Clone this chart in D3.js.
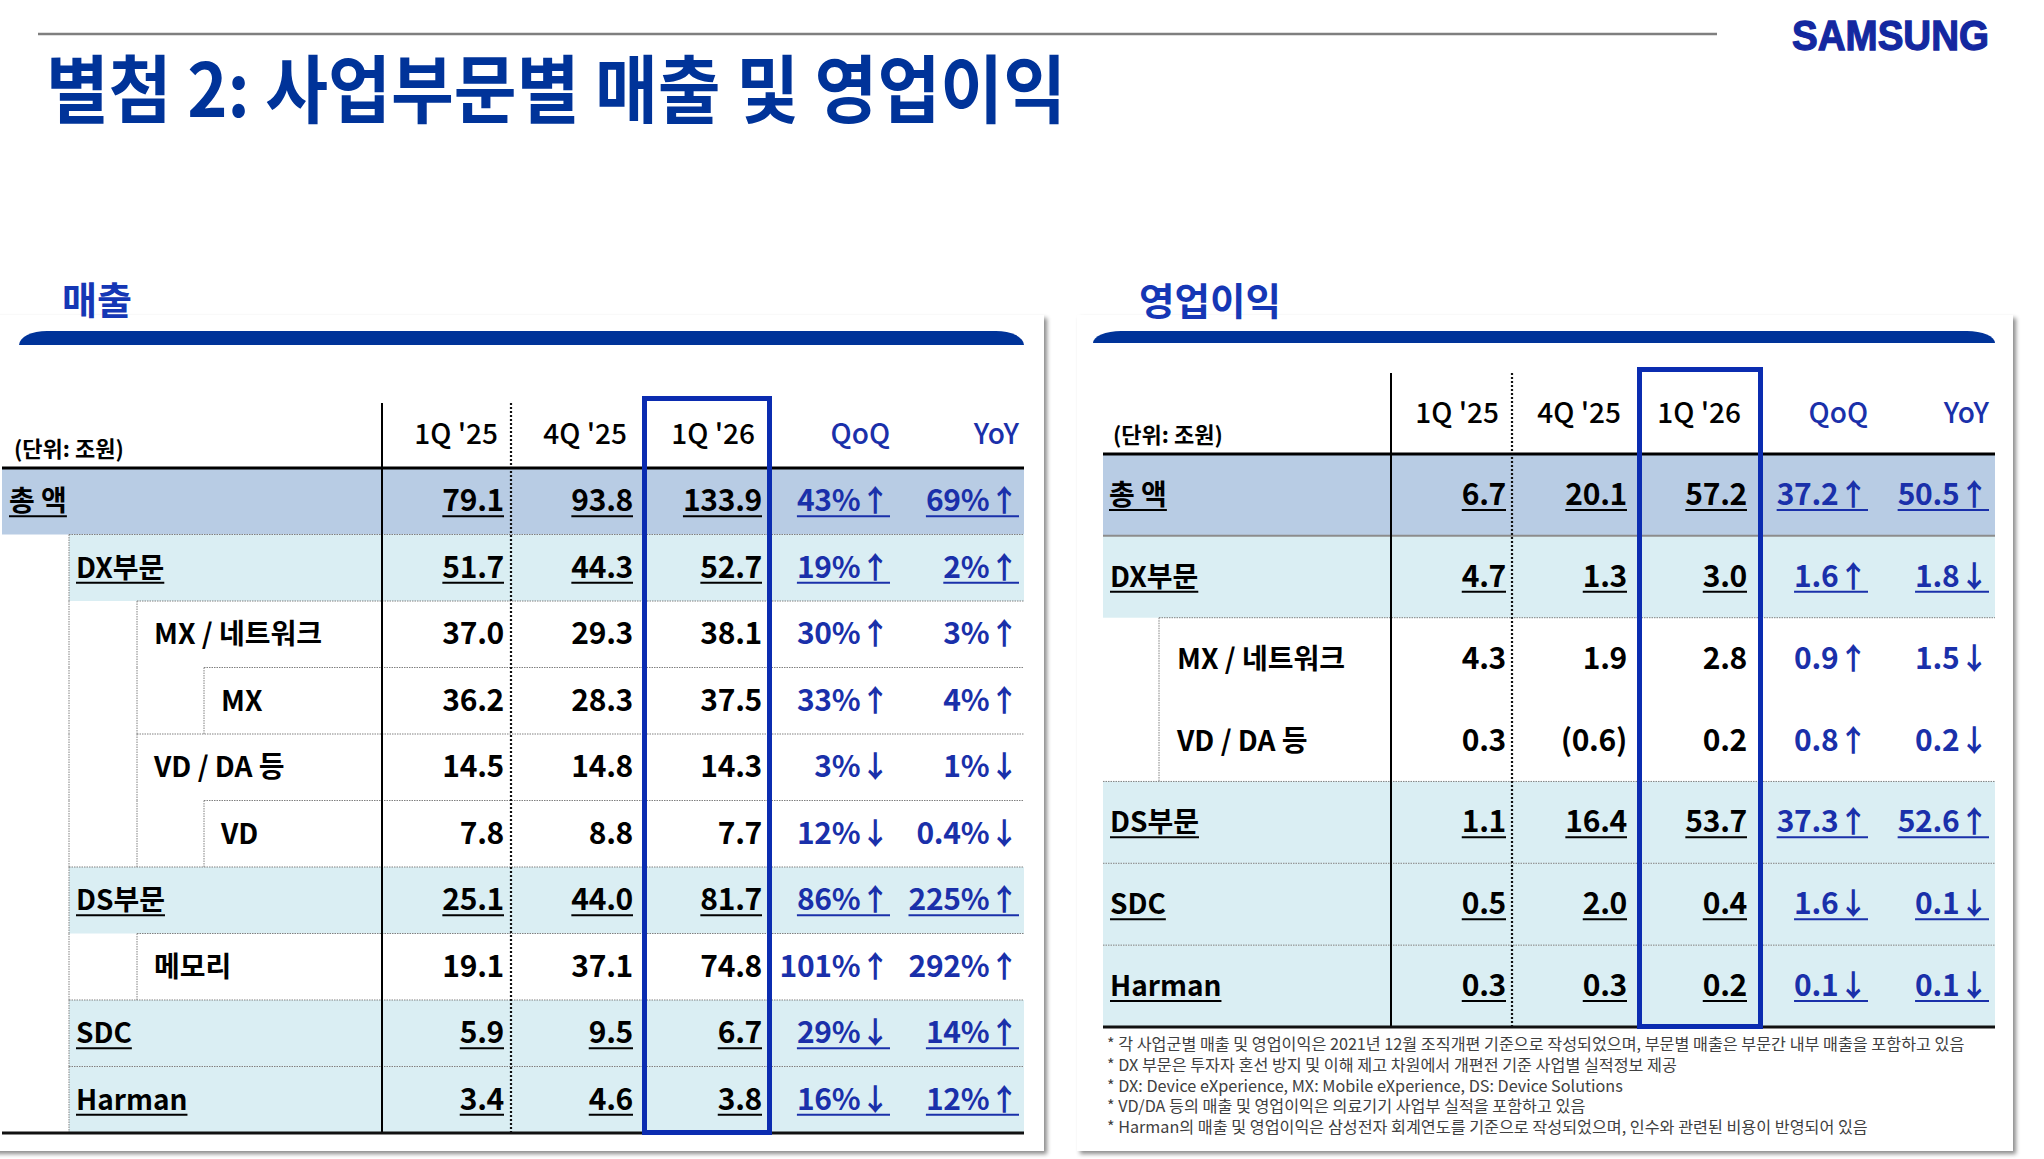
<!DOCTYPE html>
<html>
<head>
<meta charset="utf-8">
<script src="https://cdn.jsdelivr.net/npm/d3@7"></script>
<style>
  body { margin: 0; background: #fff; }
  svg { display: block; font-family: "Noto Sans CJK KR", "Noto Sans", sans-serif; }
</style>
</head>
<body>
<svg id="chart" width="2044" height="1159"></svg>
<script>
// ---- data ----
const periods = ["1Q '25", "4Q '25", "1Q '26"];
const changeCols = ["QoQ", "YoY"];

const salesRows   = ["총 액", "DX부문", "MX / 네트워크", "MX", "VD / DA 등", "VD", "DS부문", "메모리", "SDC", "Harman"];
const salesLevels = [0, 1, 2, 3, 2, 3, 1, 2, 1, 1];
const sales1Q25   = [79.1, 51.7, 37.0, 36.2, 14.5, 7.8, 25.1, 19.1, 5.9, 3.4];
const sales4Q25   = [93.8, 44.3, 29.3, 28.3, 14.8, 8.8, 44.0, 37.1, 9.5, 4.6];
const sales1Q26   = [133.9, 52.7, 38.1, 37.5, 14.3, 7.7, 81.7, 74.8, 6.7, 3.8];
const salesQoQ    = [43, 19, 30, 33, -3, -12, 86, 101, -29, -16];   // %
const salesYoY    = [69, 2, 3, 4, -1, -0.4, 225, 292, 14, 12];     // %

const opRows   = ["총 액", "DX부문", "MX / 네트워크", "VD / DA 등", "DS부문", "SDC", "Harman"];
const opLevels = [0, 1, 2, 2, 1, 1, 1];
const op1Q25   = [6.7, 4.7, 4.3, 0.3, 1.1, 0.5, 0.3];
const op4Q25   = [20.1, 1.3, 1.9, -0.6, 16.4, 2.0, 0.3];
const op1Q26   = [57.2, 3.0, 2.8, 0.2, 53.7, 0.4, 0.2];
const opQoQ    = [37.2, 1.6, 0.9, 0.8, 37.3, -1.6, -0.1];          // 조원
const opYoY    = [50.5, -1.8, -1.5, -0.2, 52.6, -0.1, -0.1];       // 조원

const footnotes = [
  "* 각 사업군별 매출 및 영업이익은 2021년 12월 조직개편 기준으로 작성되었으며, 부문별 매출은 부문간 내부 매출을 포함하고 있음",
  "* DX 부문은 투자자 혼선 방지 및 이해 제고 차원에서 개편전 기준 사업별 실적정보 제공",
  "* DX: Device eXperience, MX: Mobile eXperience, DS: Device Solutions",
  "* VD/DA 등의 매출 및 영업이익은 의료기기 사업부 실적을 포함하고 있음",
  "* Harman의 매출 및 영업이익은 삼성전자 회계연도를 기준으로 작성되었으며, 인수와 관련된 비용이 반영되어 있음"
];

// ---- styles ----
const BLUE_DARK = "#003399";
const BLUE_TXT = "#1a30aa";
const BOX_BLUE = "#0b2cb0";
const FILL0 = "#b8cce4";
const FILL1 = "#daeef3";

const f1 = d3.format(".1f");
const fmtValue = v => v < 0 ? `(${f1(-v)})` : f1(v);
const arrow = v => v < 0 ? "↓" : "↑";
const fmtPct = v => `${Math.abs(v)}%${arrow(v)}`;
const fmtDiff = v => `${f1(Math.abs(v))}${arrow(v)}`;

const svg = d3.select("#chart");

// drop shadow for panels
const defs = svg.append("defs");
const flt = defs.append("filter").attr("id", "shadow")
  .attr("x", "-5%").attr("y", "-5%").attr("width", "110%").attr("height", "110%");
flt.append("feDropShadow").attr("dx", 3).attr("dy", 3)
  .attr("stdDeviation", 2).attr("flood-color", "#000").attr("flood-opacity", 0.45);

// ---- page header ----
svg.append("line")
  .attr("x1", 38).attr("x2", 1717).attr("y1", 34).attr("y2", 34)
  .attr("stroke", "#7f7f7f").attr("stroke-width", 2.5);

svg.append("text")
  .attr("x", 46).attr("y", 117)
  .attr("font-size", 74).attr("font-weight", 700)
  .attr("fill", BLUE_DARK)
  .attr("textLength", 1020).attr("lengthAdjust", "spacingAndGlyphs")
  .text("별첨 2: 사업부문별 매출 및 영업이익");

svg.append("text")
  .attr("x", 1792).attr("y", 50)
  .attr("font-family", "'Liberation Sans', Arial, sans-serif")
  .attr("font-size", 43).attr("font-weight", 700)
  .attr("fill", "#1428a0").attr("stroke", "#1428a0").attr("stroke-width", 1.3)
  .attr("textLength", 197).attr("lengthAdjust", "spacingAndGlyphs")
  .text("SAMSUNG");

// ---- panel drawing ----
function drawPanel(cfg) {
  const L = cfg.layout;
  const g = svg.append("g");

  // white card with shadow
  g.append("rect")
    .attr("x", L.card[0]).attr("y", L.card[1])
    .attr("width", L.card[2]).attr("height", L.card[3])
    .attr("fill", "#fff").attr("filter", "url(#shadow)");

  // section title
  g.append("text")
    .attr("x", L.titleX).attr("y", L.titleY)
    .attr("font-size", 38).attr("font-weight", 700)
    .attr("fill", "#1537b5")
    .attr("textLength", L.titleLen).attr("lengthAdjust", "spacingAndGlyphs")
    .text(cfg.title);

  // ribbon bar with rounded top corners
  const bx0 = L.bar[0], bx1 = L.bar[1], by0 = L.bar[2], by1 = L.bar[3];
  const rx = 28, ry = by1 - by0;
  g.append("path")
    .attr("d", `M${bx0},${by1} A${rx},${ry} 0 0 1 ${bx0 + rx},${by0} L${bx1 - rx},${by0} A${rx},${ry} 0 0 1 ${bx1},${by1} Z`)
    .attr("fill", BLUE_DARK);

  const n = cfg.rows.length;
  const y = d3.scaleBand().domain(d3.range(n)).range([L.rowTop, L.rowBottom]);
  const cols = periods.concat(changeCols);
  const xVal = d3.scaleOrdinal().domain(cols).range(L.valueX);
  const xHead = d3.scaleOrdinal().domain(cols).range(L.headerX);
  const lv = cfg.levels;

  // row fills
  g.selectAll(".fill").data(d3.range(n).filter(i => lv[i] <= 1)).join("rect")
    .attr("x", i => L.fillX[lv[i]])
    .attr("y", i => y(i))
    .attr("width", i => L.tableRight - L.fillX[lv[i]])
    .attr("height", y.bandwidth())
    .attr("fill", i => lv[i] === 0 ? FILL0 : FILL1);

  // horizontal row separators
  d3.range(1, n).forEach(i => {
    const st = L.ruleStyle(i, lv);
    if (!st) return;
    g.append("line")
      .attr("x1", L.indentX[lv[i]]).attr("x2", L.tableRight)
      .attr("y1", y(i)).attr("y2", y(i))
      .attr("stroke", st === "solid" ? "#8c8c8c" : "#808080")
      .attr("stroke-width", st === "solid" ? 2 : 1)
      .attr("stroke-dasharray", st === "solid" ? null : "1.5,1");
  });

  // indent verticals
  d3.range(n).forEach(i => {
    for (let k = 1; k <= lv[i]; k++) {
      const xx = L.indentX[k];
      if (xx <= L.tableLeft) continue;
      g.append("line")
        .attr("x1", xx).attr("x2", xx)
        .attr("y1", y(i)).attr("y2", y(i) + y.bandwidth())
        .attr("stroke", "#808080").attr("stroke-width", 1)
        .attr("stroke-dasharray", "1.5,1");
    }
  });

  // column separators
  g.append("line")
    .attr("x1", L.colEdges[0]).attr("x2", L.colEdges[0])
    .attr("y1", L.headerTop).attr("y2", L.rowBottom)
    .attr("stroke", "#000").attr("stroke-width", 2);
  g.append("line")
    .attr("x1", L.colEdges[1]).attr("x2", L.colEdges[1])
    .attr("y1", L.headerTop).attr("y2", L.rowBottom)
    .attr("stroke", "#111").attr("stroke-width", 2.2)
    .attr("stroke-dasharray", "2,2");

  // header rule & bottom rule
  g.append("line")
    .attr("x1", L.tableLeft).attr("x2", L.tableRight)
    .attr("y1", L.rowTop).attr("y2", L.rowTop)
    .attr("stroke", "#000").attr("stroke-width", 3);
  g.append("line")
    .attr("x1", L.tableLeft).attr("x2", L.tableRight)
    .attr("y1", L.rowBottom).attr("y2", L.rowBottom)
    .attr("stroke", "#111").attr("stroke-width", 3);

  // highlight box on current quarter
  g.append("rect")
    .attr("x", L.colEdges[2] + 2.5).attr("y", L.boxTop + 2.5)
    .attr("width", L.colEdges[3] - L.colEdges[2] - 5)
    .attr("height", L.rowBottom - L.boxTop - 3)
    .attr("fill", "none").attr("stroke", BOX_BLUE).attr("stroke-width", 5);

  // header texts
  g.append("text")
    .attr("x", L.unitX).attr("y", L.unitY)
    .attr("font-size", 22).attr("font-weight", 700)
    .text("(단위: 조원)");
  g.selectAll(".head").data(cols).join("text")
    .attr("x", d => xHead(d)).attr("y", L.headerY)
    .attr("text-anchor", "end")
    .attr("font-size", 28).attr("font-weight", 500)
    .attr("fill", d => changeCols.includes(d) ? BLUE_TXT : "#000")
    .text(d => d);

  // underline helper
  function underline(sel, color) {
    sel.each(function () {
      const b = this.getBBox();
      const base = +this.getAttribute("y");
      g.append("line")
        .attr("x1", b.x).attr("x2", b.x + b.width)
        .attr("y1", base + 5).attr("y2", base + 5)
        .attr("stroke", color).attr("stroke-width", 2);
    });
  }

  const baseY = i => y(i) + y.bandwidth() / 2 + 10;

  // labels
  d3.range(n).forEach(i => {
    const t = g.append("text")
      .attr("x", L.labelX[lv[i]]).attr("y", baseY(i))
      .attr("font-size", 28).attr("font-weight", 700)
      .text(cfg.rows[i]);
    if (lv[i] <= 1) underline(t, "#000");
  });

  // values
  const columns = [
    { key: periods[0], vals: cfg.values[0], fmt: fmtValue, color: "#000" },
    { key: periods[1], vals: cfg.values[1], fmt: fmtValue, color: "#000" },
    { key: periods[2], vals: cfg.values[2], fmt: fmtValue, color: "#000" },
    { key: changeCols[0], vals: cfg.changes[0], fmt: cfg.changeFmt, color: BLUE_TXT },
    { key: changeCols[1], vals: cfg.changes[1], fmt: cfg.changeFmt, color: BLUE_TXT }
  ];
  columns.forEach(c => {
    d3.range(n).forEach(i => {
      const t = g.append("text")
        .attr("x", xVal(c.key)).attr("y", baseY(i))
        .attr("text-anchor", "end")
        .attr("font-size", 30).attr("font-weight", 600)
        .attr("letter-spacing", -0.3)
        .attr("fill", c.color)
        .text(c.fmt(c.vals[i]));
      if (lv[i] <= 1) underline(t, c.color);
    });
  });
}

drawPanel({
  title: "매출",
  rows: salesRows, levels: salesLevels,
  values: [sales1Q25, sales4Q25, sales1Q26],
  changes: [salesQoQ, salesYoY], changeFmt: fmtPct,
  layout: {
    card: [-10, 315, 1054, 836],
    titleX: 62, titleY: 314, titleLen: 70,
    bar: [19, 1024, 331, 345],
    rowTop: 468, rowBottom: 1133, headerTop: 403, boxTop: 396,
    headerY: 444, unitX: 14, unitY: 457,
    tableLeft: 2, tableRight: 1024,
    fillX: [2, 69],
    labelX: [9, 76, 154, 221], indentX: [2, 69, 137, 204],
    colEdges: [382, 511, 642, 772, 898, 1024],
    valueX: [504, 633, 762, 890, 1019],
    headerX: [498, 627, 755, 890, 1019],
    ruleStyle: () => "dotted"
  }
});

drawPanel({
  title: "영업이익",
  rows: opRows, levels: opLevels,
  values: [op1Q25, op4Q25, op1Q26],
  changes: [opQoQ, opYoY], changeFmt: fmtDiff,
  layout: {
    card: [1077, 315, 936, 836],
    titleX: 1139, titleY: 315, titleLen: 142,
    bar: [1093, 1995, 331, 343],
    rowTop: 454, rowBottom: 1027, headerTop: 373, boxTop: 367,
    headerY: 423, unitX: 1113, unitY: 443,
    tableLeft: 1103, tableRight: 1995,
    fillX: [1103, 1103],
    labelX: [1109, 1110, 1177], indentX: [1103, 1103, 1159],
    colEdges: [1391, 1512, 1637, 1763, 1877, 1995],
    valueX: [1506, 1627, 1747, 1868, 1989],
    headerX: [1499, 1621, 1741, 1868, 1989],
    ruleStyle: (i, lv) => i === 1 ? "solid" : (lv[i] === 2 && lv[i - 1] === 2 ? null : "dotted")
  }
});

// ---- footnotes ----
svg.append("g").selectAll("text").data(footnotes).join("text")
  .attr("x", 1107)
  .attr("y", (d, i) => 1050 + i * 20.8)
  .attr("font-size", 16.2)
  .attr("fill", "#404040")
  .text(d => d);
</script>
</body>
</html>
